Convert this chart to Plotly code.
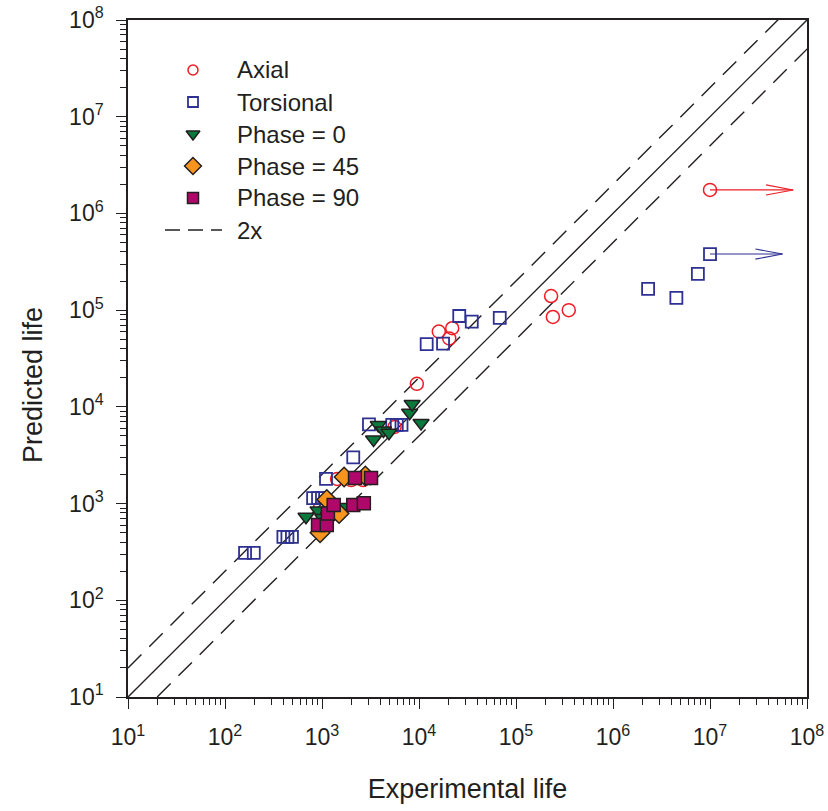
import numpy as np
import plotly.graph_objects as go

# Experimental vs predicted fatigue life, by loading type
axial_exp = [950, 1430, 2000, 2650, 5600, 9500, 16000, 22000, 20500, 230000, 240000, 350000, 1.0e7]
axial_pred = [900, 1800, 1750, 1750, 6200, 17300, 60000, 65000, 51000, 140000, 85000, 100000, 1.75e6]

tors_exp = [161, 198, 400, 440, 490, 810, 910, 1000, 1100, 2100, 3050, 5300, 5900, 6600,
            12000, 17700, 26000, 35000, 68000, 2.3e6, 4.5e6, 7.5e6, 1.0e7]
tors_pred = [309, 309, 452, 452, 452, 1140, 1140, 1140, 1800, 3000, 6600, 6500, 6500, 6500,
             44600, 45000, 87000, 76000, 83000, 166000, 134000, 237000, 380000]

ph0_exp = [684, 910, 1020, 1700, 3400, 3800, 4300, 4900, 8000, 8500, 10500]
ph0_pred = [730, 850, 710, 920, 4600, 6500, 5700, 5400, 8700, 10700, 6800]

ph45_exp = [955, 1120, 1230, 1500, 1690, 2800]
ph45_pred = [500, 1100, 810, 790, 1880, 1930]

ph90_exp = [910, 1120, 1150, 1320, 2100, 2700, 2190, 3200]
ph90_pred = [600, 600, 790, 966, 966, 1010, 1840, 1840]

# Run-outs: tests stopped before failure, marked with an arrow
runout_start = [1.0e7, 1.0e7]
runout_end = [7.2e7, 5.6e7]
runout_pred = [1.75e6, 3.8e5]
runout_color = ["#ed1c24", "#2e3192"]

legend_labels = ["Axial", "Torsional", "Phase = 0", "Phase = 45", "Phase = 90", "2x"]

axis_min, axis_max = 1e1, 1e8
tick_powers = list(range(1, 9))

RED = "#ed1c24"
BLUE = "#2e3192"
GREEN = "#0a7a3c"
ORANGE = "#f7941d"
MAGENTA = "#b0086a"
EDGE = "#231f20"
INK = "#231f20"
FONT = "Liberation Sans, Arial, Helvetica, sans-serif"

# plot-area geometry (pixels) used to place the legend block
W, H = 828, 811
ML, MR, MT, MB = 128, 21, 20, 114
PW, PH = W - ML - MR, H - MT - MB


def fx(px):
    return (px - ML) / PW


def fy(py):
    return (H - MB - py) / PH


fig = go.Figure()

# 1:1 line and factor-of-two band
diag = np.array([axis_min, axis_max])
fig.add_trace(go.Scatter(x=diag, y=diag, mode="lines", showlegend=False,
                         line=dict(color=INK, width=1.4), hoverinfo="skip"))
fig.add_trace(go.Scatter(x=diag, y=diag * 2, mode="lines", showlegend=False,
                         line=dict(color=INK, width=1.4, dash="19px,11px"), hoverinfo="skip"))
fig.add_trace(go.Scatter(x=diag * 2, y=diag, mode="lines", showlegend=False,
                         line=dict(color=INK, width=1.4, dash="19px,11px"), hoverinfo="skip"))

# Run-out arrows (drawn behind the markers)
head_len = 10 ** 0.28
head_half = 10 ** 0.052
for xs, xe, yv, c in zip(runout_start, runout_end, runout_pred, runout_color):
    fig.add_trace(go.Scatter(
        x=[xs, xe, None, xe / head_len, xe, xe / head_len],
        y=[yv, yv, None, yv * head_half, yv, yv / head_half],
        mode="lines", line=dict(color=c, width=1.1), showlegend=False, hoverinfo="skip"))

series = [
    (axial_exp, axial_pred, dict(symbol="circle-open", color=RED, line=dict(width=1.5)), 13, 10),
    (tors_exp, tors_pred, dict(symbol="square-open", color=BLUE, line=dict(width=1.8)), 12, 10),
    (ph0_exp, ph0_pred, dict(symbol="triangle-down", color=GREEN, line=dict(width=1.5, color=EDGE)), 14, 12),
    (ph45_exp, ph45_pred, dict(symbol="diamond", color=ORANGE, line=dict(width=1.5, color=EDGE)), 15, 13),
    (ph90_exp, ph90_pred, dict(symbol="square", color=MAGENTA, line=dict(width=1.5, color=EDGE)), 13, 11),
]

for name, (xs, ys, style, size, _) in zip(legend_labels, series):
    fig.add_trace(go.Scatter(x=xs, y=ys, mode="markers", name=name, showlegend=False,
                             marker=dict(size=size, **style)))

# Legend block drawn on an overlay axis spanning the plot area
row0, row_gap = 70, 32
key_x, text_x = 193, 235
for i, (name, (_, _, style, _, key_size)) in enumerate(zip(legend_labels, series)):
    yy = fy(row0 + i * row_gap)
    fig.add_trace(go.Scatter(x=[fx(key_x)], y=[yy], xaxis="x2", yaxis="y2", mode="markers",
                             showlegend=False, hoverinfo="skip",
                             marker=dict(size=key_size, **style)))
line_row = fy(row0 + 5 * row_gap)
fig.add_trace(go.Scatter(x=[fx(165), fx(222)], y=[line_row, line_row], xaxis="x2", yaxis="y2",
                         mode="lines", showlegend=False, hoverinfo="skip",
                         line=dict(color=INK, width=1.4, dash="15px,8px")))
for i, name in enumerate(legend_labels):
    fig.add_annotation(text=name, xref="paper", yref="paper", x=fx(text_x),
                       y=fy(row0 + i * row_gap), xanchor="left", yanchor="middle",
                       showarrow=False, font=dict(family=FONT, size=24, color=INK))

tick_text = [f"10<sup>{p}</sup>" for p in tick_powers]
tick_vals = [10 ** p for p in tick_powers]

axis_common = dict(
    type="log",
    range=[np.log10(axis_min), np.log10(axis_max)],
    tickvals=tick_vals, ticktext=tick_text,
    ticks="outside", ticklen=10, tickwidth=1.3, tickcolor=INK,
    minor=dict(ticks="outside", ticklen=6, tickwidth=1.1, tickcolor=INK, dtick="D1", showgrid=False),
    showline=True, linecolor=INK, linewidth=1.5, mirror=True,
    showgrid=False, zeroline=False, automargin=False,
    tickfont=dict(family=FONT, size=23, color=INK),
    title_font=dict(family=FONT, size=27, color=INK),
)

fig.update_layout(xaxis=dict(**axis_common, title_text="Experimental life", title_standoff=30,
                             ticklabelstandoff=9),
                  yaxis=dict(**axis_common, ticklabelstandoff=8),
                  xaxis2=dict(overlaying="x", range=[0, 1], visible=False, fixedrange=True),
                  yaxis2=dict(overlaying="y", range=[0, 1], visible=False, fixedrange=True))

fig.add_annotation(text="Predicted life", xref="paper", yref="paper",
                   x=fx(33), y=fy(385), xanchor="center", yanchor="middle",
                   textangle=-90, showarrow=False,
                   font=dict(family=FONT, size=27, color=INK))

fig.update_layout(
    width=W, height=H,
    margin=dict(l=ML, r=MR, t=MT, b=MB),
    plot_bgcolor="white", paper_bgcolor="white",
    showlegend=False,
)

fig.write_html("out.html")
